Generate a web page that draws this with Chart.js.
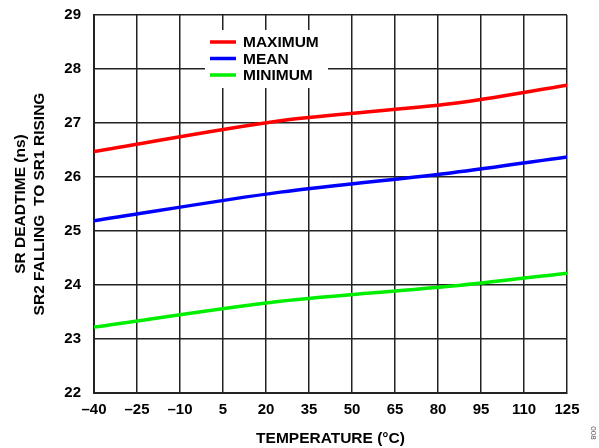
<!DOCTYPE html>
<html>
<head>
<meta charset="utf-8">
<script src="https://cdn.jsdelivr.net/npm/chart.js@4.4.0/dist/chart.umd.min.js"></script>
<style>
  html, body { margin: 0; padding: 0; background: #fff; }
  #wrap { width: 599px; height: 448px; position: relative; }
</style>
</head>
<body>
<div id="wrap"><canvas id="chart" width="599" height="448"></canvas></div>
<script>
// temperature points (°C) where the curves bend
const temps = [-40, 25, 85, 125];
const maximum = [26.47, 27.04, 27.36, 27.70];
const mean = [25.19, 25.72, 26.08, 26.37];
const minimum = [23.22, 23.70, 23.98, 24.22];

const xTicks = [-40, -25, -10, 5, 20, 35, 50, 65, 80, 95, 110, 125];
const yTicks = [22, 23, 24, 25, 26, 27, 28, 29];

const seriesNames = ['MAXIMUM', 'MEAN', 'MINIMUM'];
const seriesColors = ['#ff0000', '#0000ff', '#00ee00'];

const toPoints = (vals) => temps.map((t, i) => ({ x: t, y: vals[i] }));

const FONT = 'Liberation Sans, Arial, sans-serif';

// legend drawn inside the plot, with a white box over the grid
const insideLegend = {
  id: 'insideLegend',
  afterDatasetsDraw(chart) {
    const ctx = chart.ctx;
    ctx.save();
    ctx.fillStyle = '#fff';
    ctx.fillRect(205, 30, 123, 58);
    chart.data.datasets.forEach((ds, i) => {
      const y = 42 + i * 16.5;
      ctx.strokeStyle = ds.borderColor;
      ctx.lineWidth = 3.5;
      ctx.beginPath();
      ctx.moveTo(210, y);
      ctx.lineTo(236, y);
      ctx.stroke();
      ctx.fillStyle = '#000';
      ctx.font = 'bold 15.5px ' + FONT;
      ctx.textBaseline = 'middle';
      ctx.textAlign = 'left';
      ctx.fillText(ds.label, 243, y + 1);
    });
    // figure number at the right edge
    ctx.translate(593, 433);
    ctx.rotate(Math.PI / 2);
    ctx.font = '8px ' + FONT;
    ctx.fillStyle = '#555';
    ctx.textAlign = 'center';
    ctx.textBaseline = 'middle';
    ctx.fillText('008', 0, 0);
    ctx.restore();
  }
};

new Chart(document.getElementById('chart'), {
  type: 'line',
  data: {
    datasets: [maximum, mean, minimum].map((vals, i) => ({
      label: seriesNames[i],
      data: toPoints(vals),
      borderColor: seriesColors[i],
      backgroundColor: seriesColors[i],
      borderWidth: 3.5,
      pointRadius: 0,
      tension: 0.3,
      fill: false,
    })),
  },
  options: {
    responsive: false,
    animation: false,
    layout: { padding: { left: 12, right: 32, top: 15, bottom: 0 } },
    plugins: {
      legend: { display: false },
      tooltip: { enabled: false },
    },
    scales: {
      x: {
        type: 'linear',
        min: -40,
        max: 125,
        afterBuildTicks: (s) => { s.ticks = xTicks.map((v) => ({ value: v })); },
        afterFit: (s) => { s.height = 55; },
        ticks: {
          color: '#000',
          font: { family: FONT, size: 15, weight: 'bold' },
          padding: 8,
          maxRotation: 0,
          callback: (v) => String(v).replace('-', '\u2013'),
        },
        grid: { color: '#222', lineWidth: 1.5, drawTicks: false },
        border: { color: '#222', width: 2 },
        title: {
          display: true,
          text: 'TEMPERATURE (°C)',
          color: '#000',
          font: { family: FONT, size: 15.5, weight: 'bold' },
          padding: { top: 4, bottom: 0 },
        },
      },
      y: {
        min: 22,
        max: 29,
        afterBuildTicks: (s) => { s.ticks = yTicks.map((v) => ({ value: v })); },
        afterFit: (s) => { s.width = 82; s.paddingTop = 0; s.paddingBottom = 0; },
        ticks: {
          color: '#000',
          font: { family: FONT, size: 15, weight: 'bold' },
          padding: 13,
        },
        grid: { color: '#222', lineWidth: 1.5, drawTicks: false },
        border: { color: '#222', width: 2 },
        title: {
          display: true,
          text: ['SR DEADTIME (ns)', 'SR2 FALLING  TO SR1 RISING'],
          color: '#000',
          font: { family: FONT, size: 15.5, weight: 'bold', lineHeight: 1.18 },
          padding: { top: 0, bottom: 4 },
        },
      },
    },
  },
  plugins: [insideLegend],
});
</script>
</body>
</html>
